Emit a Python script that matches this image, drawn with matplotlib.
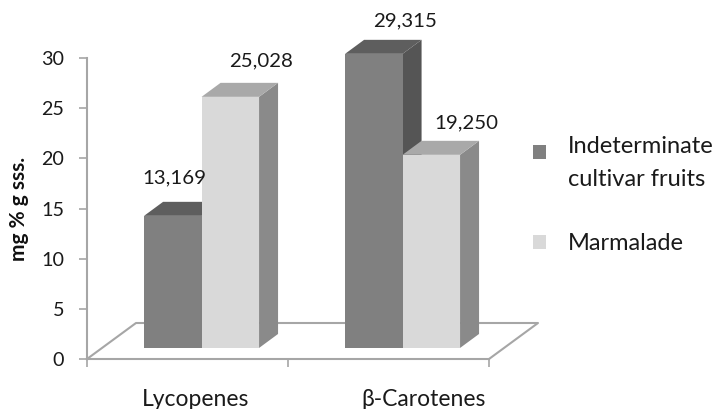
import matplotlib
matplotlib.use("Agg")
import matplotlib.pyplot as plt
from matplotlib.patches import Polygon, Patch

categories = ["Lycopenes", "β-Carotenes"]
series_names = ["Indeterminate\ncultivar fruits", "Marmalade"]
fruits = [13.169, 29.315]
marmalade = [25.028, 19.250]
yticks = [0, 5, 10, 15, 20, 25, 30]

W, H = 718, 409
plt.rcParams["font.family"] = ["Lato", "DejaVu Sans"]
fig = plt.figure(figsize=(W / 100, H / 100), dpi=100)
L, R, T, B = 87, 489, 58, 359
ax = fig.add_axes([L / W, 1 - B / H, (R - L) / W, (B - T) / H])
ax.set_xlim(0, 2)
ax.set_ylim(0, 30)
px, py = 2 / (R - L), 30 / (B - T)

AXC = "#a6a6a6"
for s in ("top", "right"):
    ax.spines[s].set_visible(False)
for s in ("left", "bottom"):
    ax.spines[s].set_color(AXC)
    ax.spines[s].set_linewidth(1.5)
ax.set_yticks(yticks)
ax.set_xticks([0, 1, 2])
ax.set_xticklabels([])
ax.tick_params(axis="both", color=AXC, width=1.2, length=5.5)
ax.tick_params(axis="y", labelsize=14.2, pad=11, labelcolor="#1a1a1a")
cat_shift = [6, 25]
for i, c in enumerate(categories):
    ax.annotate(c, (i + 0.5, 0), xytext=(cat_shift[i], -29.5), textcoords="offset points",
                ha="center", va="center", fontsize=16.5, color="#1a1a1a", annotation_clip=False)
ax.set_ylabel("mg % g sss.", fontsize=15, fontweight="bold", color="#111111", labelpad=9)

# floor
fx, fy = 49 * px, 36 * py
ax.plot([0, fx, 2 + fx, 2], [0, fy, fy, 0], color=AXC, lw=1.5, clip_on=False, zorder=1)

# bars
base = 1.1
width = 0.286
start = 0.284
dx, dy = 19 * px, 14 * py
styles = [("#808080", "#5e5e5e", "#555555"), ("#d9d9d9", "#a9a9a9", "#8a8a8a")]
z = 2
for i in range(2):
    for j, vals in enumerate((fruits, marmalade)):
        v = vals[i]
        front, top, side = styles[j]
        x0 = i + start + j * width
        x1 = x0 + width
        y1 = base + v
        ax.add_patch(Polygon([(x1, base), (x1 + dx, base + dy), (x1 + dx, y1 + dy), (x1, y1)],
                             fc=side, ec="none", zorder=z, clip_on=False))
        ax.add_patch(Polygon([(x0, y1), (x0 + dx, y1 + dy), (x1 + dx, y1 + dy), (x1, y1)],
                             fc=top, ec="none", zorder=z, clip_on=False))
        ax.bar(x0, v, width=width, bottom=base, align="edge", color=front, zorder=z, clip_on=False)
        z += 1

# value labels
label_off = {(0, 0): (2, 38), (0, 1): (31, 36), (1, 0): (31, 33), (1, 1): (35, 32)}
for i in range(2):
    for j, vals in enumerate((fruits, marmalade)):
        v = vals[i]
        off = label_off[(i, j)]
        xc = i + start + (j + 0.5) * width
        ax.annotate(f"{v:.3f}".replace(".", ","), (xc, base + v),
                    xytext=(off[0] * 0.72, off[1] * 0.72), textcoords="offset points",
                    ha="center", va="center", fontsize=14.7, color="#1a1a1a",
                    annotation_clip=False, zorder=20)

# legend
handles = [Patch(fc=styles[0][0], ec="none"), Patch(fc=styles[1][0], ec="none")]
leg = fig.legend(handles, series_names, loc="upper left", bbox_to_anchor=(533 / W, 1 - 136 / H),
                 frameon=False, fontsize=17, labelcolor="#1a1a1a", handlelength=0.55, handleheight=0.55,
                 handletextpad=0.93, labelspacing=1.83, borderpad=0, borderaxespad=0)
for t in leg.get_texts():
    t.set_linespacing(1.72)
h0 = leg.legend_handles[0]
h0.set_y(h0.get_y() + 8)

fig.savefig("out.png", dpi=100)
